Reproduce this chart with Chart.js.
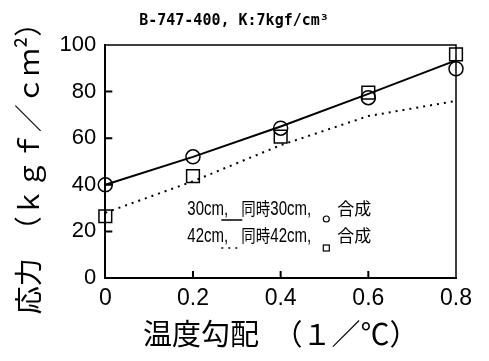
<!DOCTYPE html>
<html>
<head>
<meta charset="utf-8">
<script src="https://cdn.jsdelivr.net/npm/chart.js@4.4.1/dist/chart.umd.min.js"></script>
<style>
  html, body { margin: 0; padding: 0; background: #fff; }
  #wrap { width: 489px; height: 361px; }
</style>
</head>
<body>
<div id="wrap"><canvas id="c"></canvas></div>
<script>
// temperature gradient (1/°C)
var gradients = [0, 0.2, 0.4, 0.6, 0.8];
// stress (kgf/cm2)
var line30 = [40, 52, 65, 79, 93.4];      // 30cm, solid line
var line42 = [28, 41.5, 57, 69.5, 76];    // 42cm, dotted line
var pts30 = [40, 52, 64.3, 77.4, 89.8];   // 同時30cm (circles)
var pts42 = [26.5, 43.7, 60.7, 79.6, 96]; // 同時42cm (squares)
var yTicks = [0, 20, 40, 60, 80, 100];
var xTicks = [0, 0.2, 0.4, 0.6, 0.8];

var NUM = "'Liberation Sans', 'DejaVu Sans Condensed', sans-serif";
var MONO = "'DejaVu Sans Mono', 'Liberation Mono', monospace";
var CJK = "'Noto Sans CJK JP', 'Noto Sans CJK SC', sans-serif";

function xy(xs, ys) {
  var out = [];
  for (var i = 0; i < xs.length; i++) out.push({x: xs[i], y: ys[i]});
  return out;
}

// frame, inward tick marks and the in-plot key
var framePlugin = {
  id: 'frame',
  afterDraw: function(chart) {
    var ctx = chart.ctx, a = chart.chartArea;
    var sx = chart.scales.x, sy = chart.scales.y;
    ctx.save();
    ctx.strokeStyle = '#000';
    ctx.lineWidth = 1.5;
    ctx.beginPath();
    ctx.moveTo(a.left, a.top); ctx.lineTo(a.right, a.top);
    ctx.lineTo(a.right, a.bottom);
    ctx.stroke();
    ctx.lineWidth = 2;
    ctx.beginPath();
    yTicks.forEach(function(v) {
      if (v == 0 || v == 100) return;
      var p = sy.getPixelForValue(v);
      ctx.moveTo(a.left, p); ctx.lineTo(a.left + 7, p);
    });
    xTicks.forEach(function(v) {
      if (v == 0 || v == 0.8) return;
      var p = sx.getPixelForValue(v);
      ctx.moveTo(p, a.bottom); ctx.lineTo(p, a.bottom - 7);
    });
    ctx.stroke();

    // key text
    function txt(s, x, y, font, squeeze) {
      ctx.save();
      ctx.font = font;
      ctx.translate(x, y);
      ctx.scale(squeeze || 1, 1);
      ctx.fillStyle = '#000';
      ctx.textBaseline = 'alphabetic';
      ctx.fillText(s, 0, 0);
      ctx.restore();
    }
    var L = a.left, T = a.top;
    var nf = '20px ' + NUM, cf = '17px ' + CJK;
    txt('30cm,', L + 82, T + 170, nf, 0.75);
    txt('同時', L + 136, T + 170, cf, 0.85);
    txt('30cm,', L + 165, T + 170, nf, 0.75);
    txt('合成', L + 232, T + 170, cf);
    txt('42cm,', L + 82, T + 197, nf, 0.75);
    txt('同時', L + 136, T + 197, cf, 0.85);
    txt('42cm,', L + 165, T + 197, nf, 0.75);
    txt('合成', L + 232, T + 197, cf);
    ctx.lineWidth = 1.5;
    ctx.beginPath();
    ctx.moveTo(L + 116, T + 175); ctx.lineTo(L + 137, T + 175);
    ctx.stroke();
    ctx.setLineDash([2, 5]);
    ctx.beginPath();
    ctx.moveTo(L + 116, T + 203); ctx.lineTo(L + 137, T + 203);
    ctx.stroke();
    ctx.setLineDash([]);
    ctx.lineWidth = 1.2;
    ctx.beginPath();
    ctx.arc(L + 221, T + 174, 3, 0, Math.PI * 2);
    ctx.stroke();
    ctx.strokeRect(L + 218, T + 200, 6, 6);
    ctx.restore();
  }
};

new Chart(document.getElementById('c'), {
  type: 'scatter',
  data: {
    datasets: [
      {
        label: '30cm',
        data: xy(gradients, line30),
        showLine: true,
        borderColor: '#000',
        borderWidth: 2,
        pointRadius: 0
      },
      {
        label: '42cm',
        data: xy(gradients, line42),
        showLine: true,
        borderColor: '#000',
        borderWidth: 2,
        borderDash: [2, 5],
        pointRadius: 0
      },
      {
        label: '同時30cm',
        data: xy(gradients, pts30),
        pointStyle: 'circle',
        pointRadius: 7,
        borderColor: '#000',
        borderWidth: 1.5,
        backgroundColor: 'rgba(0,0,0,0)'
      },
      {
        label: '同時42cm',
        data: xy(gradients, pts42),
        pointStyle: 'rect',
        pointRadius: 9,
        borderColor: '#000',
        borderWidth: 1.5,
        backgroundColor: 'rgba(0,0,0,0)'
      }
    ]
  },
  options: {
    responsive: true,
    maintainAspectRatio: false,
    animation: false,
    clip: false,
    layout: { padding: { left: 12, right: 33, top: 0, bottom: 13 } },
    plugins: {
      legend: { display: false },
      tooltip: { enabled: false },
      title: {
        display: true,
        text: 'B-747-400, K:7kgf/cm³',
        color: '#000',
        font: { family: MONO, size: 15, weight: 'bold' },
        padding: { top: 12, bottom: 15 }
      }
    },
    scales: {
      x: {
        type: 'linear',
        min: 0, max: 0.8,
        afterBuildTicks: function(s) { s.ticks = xTicks.map(function(v) { return {value: v}; }); },
        grid: { display: false, drawTicks: false },
        border: { display: true, color: '#000', width: 2 },
        ticks: {
          color: '#000',
          padding: 9,
          font: { family: NUM, size: 23, lineHeight: 1 },
          callback: function(v) { return v == 0 ? '0' : v.toFixed(1); }
        },
        title: {
          display: true,
          text: '温度勾配　（１／℃）',
          color: '#000',
          font: { family: CJK, size: 29, lineHeight: 1 },
          padding: { top: 0, bottom: 0 }
        }
      },
      y: {
        min: 0, max: 100,
        afterBuildTicks: function(s) { s.ticks = yTicks.map(function(v) { return {value: v}; }); },
        grid: { display: false, drawTicks: false },
        border: { display: true, color: '#000', width: 2 },
        ticks: {
          color: '#000',
          padding: 9,
          font: { family: NUM, size: 22 }
        },
        title: {
          display: true,
          text: '応力　（ｋｇｆ／ｃｍ²）',
          color: '#000',
          font: { family: CJK, size: 28 },
          padding: { top: 0, bottom: 5 }
        }
      }
    }
  },
  plugins: [framePlugin]
});
</script>
</body>
</html>
